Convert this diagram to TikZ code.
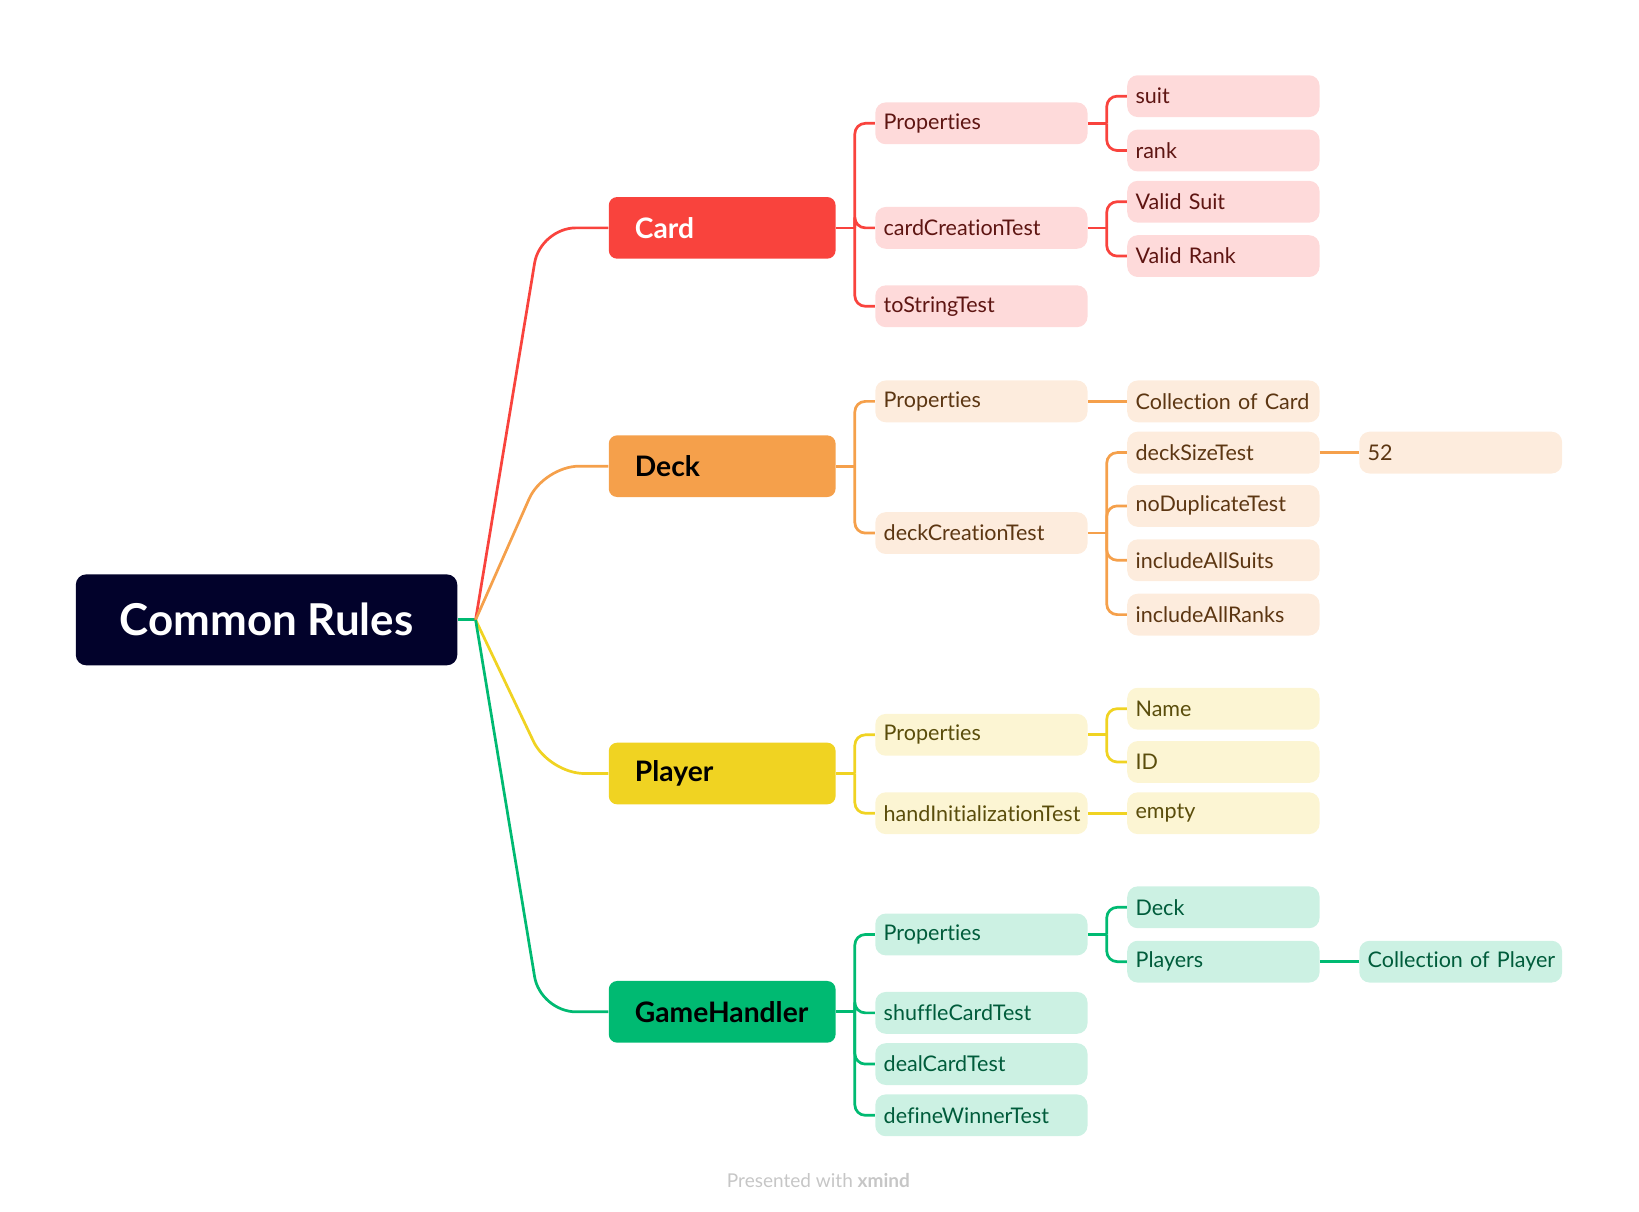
\documentclass[tikz,border=0pt]{standalone}
\usepackage{fontspec}
\setmainfont{Lato}[Ligatures={NoCommon,NoRare,NoDiscretionary}]
\definecolor{rootC}{HTML}{02022B}
\definecolor{cardC}{HTML}{F9433D}
\definecolor{cardL}{HTML}{FEDADA}
\definecolor{cardT}{HTML}{5E1512}
\definecolor{deckC}{HTML}{F5A04B}
\definecolor{deckL}{HTML}{FDECDD}
\definecolor{deckT}{HTML}{5C3612}
\definecolor{playerC}{HTML}{F0D322}
\definecolor{playerL}{HTML}{FCF5D3}
\definecolor{playerT}{HTML}{5A4D0B}
\definecolor{ghC}{HTML}{00BA72}
\definecolor{ghL}{HTML}{CCF1E3}
\definecolor{ghT}{HTML}{005C3B}
\tikzset{
  box/.style={anchor=west, align=left, inner ysep=0pt},
  rootbox/.style={fill=rootC, text=white, rounded corners=5pt, minimum width=182.5pt, minimum height=43.5pt, font=\fontsize{21}{24}\selectfont\bfseries},
  mainbox/.style={box, fill=#1C, rounded corners=4pt, text width=83.5pt, inner xsep=12.5pt, minimum height=29.5pt, font=\fontsize{13.5}{16}\selectfont\bfseries},
  subbox/.style={box, fill=#1L, text=#1T, rounded corners=5pt, text width=93.5pt, inner xsep=4pt, minimum height=20pt, font=\fontsize{10.3}{12}\selectfont},
  leafbox/.style={subbox=#1, text width=84pt},
  farbox/.style={subbox=#1, text width=89pt},
  link/.style={draw=#1C, line width=1.3pt, rounded corners=5pt},
}
\begin{document}
\begin{tikzpicture}[x=0.5pt,y=-0.5pt]
\useasboundingbox (0,0) rectangle (1568,1159);
% root and main branches
\node[rootbox] (root) at (255,593) {Common Rules};
\node[mainbox=card, text=white] (card) at (582,218) {Card};
\node[mainbox=deck] (deck) at (582,446) {Deck};
\node[mainbox=player] (player) at (582,740) {Player};
\node[mainbox=gh] (gh) at (582,968) {GameHandler};
\coordinate (hub) at (455,593);
\draw[link=gh, rounded corners=0pt] (root.east) -- (hub);
\draw[link=card, rounded corners=17pt] (hub) -- (517,218) -- (card.west);
\draw[link=deck, rounded corners=17pt] (hub) -- (520,446) -- (deck.west);
\draw[link=player, rounded corners=17pt] (hub) -- (525,740) -- (player.west);
\draw[link=gh, rounded corners=17pt] (hub) -- (517,968) -- (gh.west);

% Card
\node[subbox=card] (cprop) at (837,118) {Properties};
\node[subbox=card] (ccreate) at (837,218) {cardCreationTest};
\node[subbox=card] (ctostr) at (837,293) {toStringTest};
\node[leafbox=card] (csuit) at (1078,92) {suit};
\node[leafbox=card] (crank) at (1078,144) {rank};
\node[leafbox=card] (cvsuit) at (1078,193) {Valid Suit};
\node[leafbox=card] (cvrank) at (1078,245) {Valid Rank};
\coordinate (cardJ) at ([xshift=9pt]card.east);
\draw[link=card] (card.east) -- (cardJ);
\foreach \n in {cprop,ccreate,ctostr}
    \draw[link=card] (cardJ) |- (\n.west);
\coordinate (cpropJ) at ([xshift=9pt]cprop.east);
\draw[link=card] (cprop.east) -- (cpropJ);
\foreach \n in {csuit,crank}
    \draw[link=card] (cpropJ) |- (\n.west);
\coordinate (ccreateJ) at ([xshift=9pt]ccreate.east);
\draw[link=card] (ccreate.east) -- (ccreateJ);
\foreach \n in {cvsuit,cvrank}
    \draw[link=card] (ccreateJ) |- (\n.west);

% Deck
\node[subbox=deck] (dprop) at (837,384) {Properties};
\node[subbox=deck] (dcreate) at (837,510) {deckCreationTest};
\node[leafbox=deck] (dcoll) at (1078,384) {\mbox{Collection of Card}};
\node[leafbox=deck] (dsize) at (1078,433) {deckSizeTest};
\node[leafbox=deck] (ddup) at (1078,484) {noDuplicateTest};
\node[leafbox=deck] (dsuits) at (1078,536) {includeAllSuits};
\node[leafbox=deck] (dranks) at (1078,588) {includeAllRanks};
\node[farbox=deck] (d52) at (1300,433) {52};
\coordinate (deckJ) at ([xshift=9pt]deck.east);
\draw[link=deck] (deck.east) -- (deckJ);
\foreach \n in {dprop,dcreate}
    \draw[link=deck] (deckJ) |- (\n.west);
\draw[link=deck] (dprop.east) -- (dcoll.west);
\coordinate (dcreateJ) at ([xshift=9pt]dcreate.east);
\draw[link=deck] (dcreate.east) -- (dcreateJ);
\foreach \n in {dsize,ddup,dsuits,dranks}
    \draw[link=deck] (dcreateJ) |- (\n.west);
\draw[link=deck] (dsize.east) -- (d52.west);

% Player
\node[subbox=player] (pprop) at (837,703) {Properties};
\node[subbox=player] (phand) at (837,778) {\mbox{handInitializationTest}};
\node[leafbox=player] (pname) at (1078,678) {Name};
\node[leafbox=player] (pid) at (1078,729) {ID};
\node[leafbox=player] (pempty) at (1078,778) {empty};
\coordinate (playerJ) at ([xshift=9pt]player.east);
\draw[link=player] (player.east) -- (playerJ);
\foreach \n in {pprop,phand}
    \draw[link=player] (playerJ) |- (\n.west);
\coordinate (ppropJ) at ([xshift=9pt]pprop.east);
\draw[link=player] (pprop.east) -- (ppropJ);
\foreach \n in {pname,pid}
    \draw[link=player] (ppropJ) |- (\n.west);
\draw[link=player] (phand.east) -- (pempty.west);

% GameHandler
\node[subbox=gh] (gprop) at (837,894) {Properties};
\node[subbox=gh] (gshuffle) at (837,969) {shuffleCardTest};
\node[subbox=gh] (gdeal) at (837,1018) {dealCardTest};
\node[subbox=gh] (gwinner) at (837,1067) {defineWinnerTest};
\node[leafbox=gh] (gdeck) at (1078,868) {Deck};
\node[leafbox=gh] (gplayers) at (1078,920) {Players};
\node[farbox=gh] (gcoll) at (1300,920) {\mbox{Collection of Player}};
\coordinate (ghJ) at ([xshift=9pt]gh.east);
\draw[link=gh] (gh.east) -- (ghJ);
\foreach \n in {gprop,gshuffle,gdeal,gwinner}
    \draw[link=gh] (ghJ) |- (\n.west);
\coordinate (gpropJ) at ([xshift=9pt]gprop.east);
\draw[link=gh] (gprop.east) -- (gpropJ);
\foreach \n in {gdeck,gplayers}
    \draw[link=gh] (gpropJ) |- (\n.west);
\draw[link=gh] (gplayers.east) -- (gcoll.west);

\node[text=gray!45, font=\fontsize{9.1}{11}\selectfont] (credit) at (783,1129) {Presented with \textbf{xmind}};
\end{tikzpicture}
\end{document}
